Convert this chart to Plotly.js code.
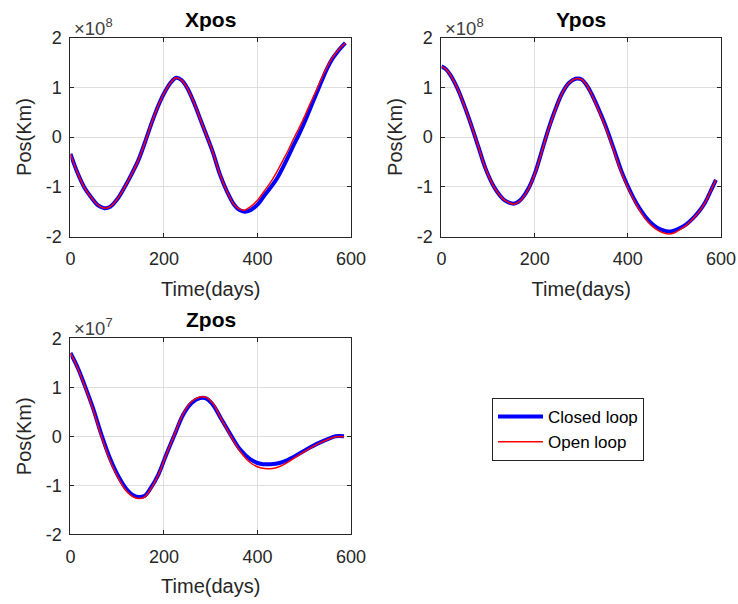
<!DOCTYPE html>
<html>
<head>
<meta charset="utf-8">
<script src="https://cdn.plot.ly/plotly-3.0.1.min.js"></script>
<style>html,body{margin:0;padding:0;background:#fff;}#chart{width:738px;height:604px;}</style>
</head>
<body>
<div id="chart"></div>
<script>
// Time samples (days) and positions (Xpos/Ypos in units of 1e8 km, Zpos in 1e7 km)
var tX = [0,15,30,45,60,73,85,100,115,130,145,160,175,190,202,215,226,238,250,265,280,294,305,320,335,350,362,372,385,400,415,430,442,455,467,478,490,502,513,525,537,549,560,570,580,588];
var xClosed = [-0.34,-0.72,-1.02,-1.22,-1.38,-1.43,-1.40,-1.25,-1.02,-0.76,-0.47,-0.09,0.32,0.68,0.91,1.10,1.19,1.14,0.98,0.67,0.30,-0.04,-0.32,-0.76,-1.10,-1.36,-1.47,-1.50,-1.47,-1.36,-1.17,-0.99,-0.83,-0.60,-0.37,-0.15,0.08,0.33,0.58,0.85,1.12,1.38,1.57,1.70,1.81,1.89];
var xOpen   = [-0.34,-0.72,-1.02,-1.22,-1.38,-1.43,-1.40,-1.25,-1.02,-0.76,-0.47,-0.09,0.32,0.68,0.91,1.10,1.19,1.14,0.98,0.67,0.30,-0.04,-0.32,-0.76,-1.10,-1.36,-1.45,-1.47,-1.40,-1.27,-1.08,-0.88,-0.69,-0.46,-0.24,-0.02,0.20,0.44,0.68,0.92,1.18,1.41,1.59,1.72,1.82,1.89];

var tY = [0,10,19,28,37,51,66,80,94,112,125,134,145,155,165,173,187,202,216,230,245,259,273,288,300,311,322,333,351,369,386,401,419,430,440,451,462,474,487,499,512,526,540,553,565,577,589];
var yClosed = [1.42,1.36,1.25,1.10,0.92,0.58,0.18,-0.22,-0.62,-0.99,-1.17,-1.26,-1.32,-1.34,-1.30,-1.23,-1.03,-0.69,-0.26,0.17,0.57,0.88,1.08,1.17,1.16,1.05,0.87,0.65,0.25,-0.22,-0.68,-1.01,-1.34,-1.50,-1.63,-1.74,-1.82,-1.87,-1.90,-1.88,-1.83,-1.75,-1.63,-1.49,-1.33,-1.10,-0.86];
var yOpen   = [1.42,1.36,1.25,1.10,0.92,0.58,0.18,-0.22,-0.62,-0.99,-1.17,-1.26,-1.32,-1.35,-1.31,-1.24,-1.04,-0.70,-0.27,0.16,0.56,0.88,1.08,1.17,1.16,1.05,0.86,0.63,0.22,-0.25,-0.71,-1.04,-1.37,-1.54,-1.67,-1.78,-1.86,-1.92,-1.95,-1.93,-1.86,-1.77,-1.64,-1.50,-1.33,-1.10,-0.86];

var tZ = [0,16,30,48,66,84,102,120,135,147,158,170,188,205,223,241,259,277,291,305,321,342,363,385,406,428,449,471,499,528,557,567,585];
var zClosed = [1.70,1.39,1.05,0.58,0.04,-0.44,-0.81,-1.08,-1.21,-1.24,-1.22,-1.08,-0.78,-0.37,0.04,0.44,0.68,0.78,0.77,0.64,0.38,0.04,-0.27,-0.47,-0.56,-0.57,-0.54,-0.45,-0.30,-0.15,-0.03,0.00,0.00];
var zOpen   = [1.70,1.38,1.03,0.55,0.00,-0.48,-0.85,-1.12,-1.24,-1.27,-1.24,-1.10,-0.79,-0.37,0.05,0.46,0.71,0.80,0.79,0.67,0.38,0.02,-0.31,-0.54,-0.64,-0.66,-0.61,-0.49,-0.32,-0.16,-0.04,-0.01,-0.01];

var xTicks = [0,200,400,600];
var xTickText = ['0','200','400','600'];
var yTicks = [-2,-1,0,1,2];
var yTickText = ['-2','-1','0','1','2'];
var titles = ['Xpos','Ypos','Zpos'];
var exponents = ['8','8','7'];
var seriesNames = ['Closed loop','Open loop'];

var FONT = 'Liberation Sans, Arial, Helvetica, sans-serif';
var AX = '#262626';
var BLUE = '#0000ff', RED = '#ff0000';

function pair(t, c, o, xa, ya, show) {
  return [
    {x: t, y: c, xaxis: xa, yaxis: ya, type: 'scatter', mode: 'lines', name: seriesNames[0],
     line: {color: BLUE, width: 4, shape: 'spline', smoothing: 1}, showlegend: show, legendrank: 1},
    {x: t, y: o, xaxis: xa, yaxis: ya, type: 'scatter', mode: 'lines', name: seriesNames[1],
     line: {color: RED, width: 1.5, shape: 'spline', smoothing: 1}, showlegend: show, legendrank: 2}
  ];
}
var data = [].concat(pair(tX, xClosed, xOpen, 'x', 'y', true),
                     pair(tY, yClosed, yOpen, 'x2', 'y2', false),
                     pair(tZ, zClosed, zOpen, 'x3', 'y3', false));

function xa(dom, anchor) {
  return {domain: dom, anchor: anchor, range: [0, 600], tickvals: xTicks, ticktext: xTickText,
    showline: true, mirror: 'ticks', linecolor: AX, linewidth: 1, ticks: 'inside', ticklen: 4, tickcolor: AX,
    showgrid: true, gridcolor: '#dedede', gridwidth: 1, zeroline: false, ticklabelstandoff: 6,
    tickfont: {family: FONT, size: 18, color: AX},
    title: {text: 'Time(days)', font: {family: FONT, size: 20, color: AX}, standoff: 13}};
}
function ya(dom, anchor) {
  return {domain: dom, anchor: anchor, range: [-2, 2], tickvals: yTicks, ticktext: yTickText,
    showline: true, mirror: 'ticks', linecolor: AX, linewidth: 1, ticks: 'inside', ticklen: 4, tickcolor: AX,
    showgrid: true, gridcolor: '#dedede', gridwidth: 1, zeroline: false, ticklabelstandoff: 4,
    tickfont: {family: FONT, size: 18, color: AX},
    title: {text: 'Pos(Km)', font: {family: FONT, size: 20, color: AX}, standoff: 8}};
}
var dL = [0.0955, 0.4756], dR = [0.5982, 0.9770];
var dT = [0.6084, 0.9379], dB = [0.1154, 0.4399];

var titlePos = [[0.2856, 0.9669], [0.7873, 0.9669], [0.2856, 0.4702]];
var expPos = [[0.0976, 0.955], [0.5996, 0.955], [0.0976, 0.4586]];
var annotations = [];
for (var i = 0; i < 3; i++) {
  annotations.push({text: '<b>' + titles[i] + '</b>', xref: 'paper', yref: 'paper', x: titlePos[i][0], y: titlePos[i][1],
    xanchor: 'center', yanchor: 'middle', showarrow: false, font: {family: FONT, size: 21, color: '#000'}});
  annotations.push({text: '\u00d710<sup>' + exponents[i] + '</sup>', xref: 'paper', yref: 'paper', x: expPos[i][0], y: expPos[i][1],
    xanchor: 'left', yanchor: 'middle', showarrow: false, font: {family: FONT, size: 18.5, color: '#404040'}});
}

var layout = {
  width: 738, height: 604, margin: {l: 0, r: 0, t: 0, b: 0},
  paper_bgcolor: '#fff', plot_bgcolor: '#fff',
  font: {family: FONT, color: AX},
  xaxis: xa(dL, 'y'), yaxis: ya(dT, 'x'),
  xaxis2: xa(dR, 'y2'), yaxis2: ya(dT, 'x2'),
  xaxis3: xa(dL, 'y3'), yaxis3: ya(dB, 'x3'),
  showlegend: true,
  legend: {x: 0.6667, y: 0.341, xanchor: 'left', yanchor: 'top', bgcolor: '#fff', bordercolor: AX, borderwidth: 1,
    font: {family: FONT, size: 17, color: '#000'}, itemwidth: 45, tracegroupgap: 0},
  annotations: annotations
};
Plotly.newPlot('chart', data, layout, {staticPlot: true, displayModeBar: false});
</script>
</body>
</html>
